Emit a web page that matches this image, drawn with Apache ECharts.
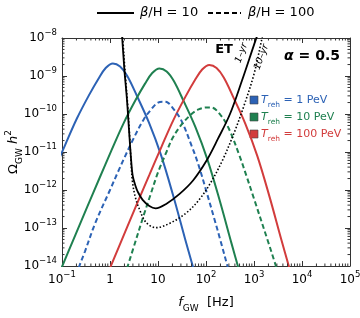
<!DOCTYPE html>
<html><head><meta charset="utf-8">
<script src="https://cdn.jsdelivr.net/npm/echarts/dist/echarts.min.js"></script>
<style>html,body{margin:0;padding:0;background:#fff}#c{width:360px;height:318px}</style>
</head><body><div id="c"></div>
<script>
const FONT = 'DejaVu Sans';
const xRange = [0.1, 1e5];
const yRange = [1e-14, 1e-8];
const legendNames = ['1 PeV', '10 PeV', '100 PeV'];
const betaNames = ['10', '100'];
const colors = ['#2c62b5', '#1f8050', '#d23c3c'];

// beta/H = 10 (solid)
const blueSolid = [[0.0912,7.6e-12],[0.1148,1.48e-11],[0.2042,7.6e-11],[0.3631,3.09e-10],[0.5754,8.5e-10],[0.8128,1.62e-9],[1.148,2.14e-9],[1.622,1.78e-9],[2.291,1.0e-9],[3.631,3.02e-10],[6.457,6.0e-11],[11.48,8.5e-12],[20.42,7.6e-13],[36.31,5.4e-14],[51.29,1.15e-14],[72.44,2.4e-15]];
const greenSolid = [[0.0851,5.9e-15],[0.1905,6.6e-14],[0.3388,3.7e-13],[0.6026,2.04e-12],[1.072,1.1e-11],[1.905,5.6e-11],[3.388,2.29e-10],[5.37,6.3e-10],[7.586,1.2e-9],[10.72,1.58e-9],[15.14,1.32e-9],[21.38,7.4e-10],[33.88,2.24e-10],[60.26,4.5e-11],[107.2,6.3e-12],[190.5,5.6e-13],[338.8,4.0e-14],[478.6,8.5e-15],[676.1,1.78e-15]];
const redSolid = [[0.933,7.2e-15],[2.089,8.1e-14],[3.715,4.6e-13],[6.607,2.5e-12],[11.75,1.35e-11],[20.89,6.9e-11],[37.15,2.82e-10],[58.88,7.8e-10],[83.18,1.48e-9],[117.5,1.95e-9],[166.0,1.62e-9],[234.4,9.1e-10],[371.5,2.75e-10],[660.7,5.5e-11],[1175,7.8e-12],[2089,6.9e-13],[3715,4.9e-14],[5248,1.05e-14],[7413,2.2e-15]];
// beta/H = 100 (dashed)
const blueDashed = [[0.2,5.6e-15],[0.23,1e-14],[0.3,2.4e-14],[0.5,1.41e-13],[1,1.0e-12],[1.5,3.2e-12],[2,7.1e-12],[3,2.1e-11],[5,7.1e-11],[7,1.26e-10],[10,2.0e-10],[13,2.1e-10],[16,2.0e-10],[20,1.48e-10],[30,7.1e-11],[50,1.48e-11],[70,4.5e-12],[100,1.0e-12],[150,1.7e-13],[200,4.7e-14],[280,1e-14],[320,5.6e-15]];
const greenDashed = [[2,5.4e-15],[2.3,9.3e-15],[3,2.7e-14],[5,2.1e-13],[7,7.6e-13],[10,2.9e-12],[15,1.0e-11],[20,2.3e-11],[30,5.0e-11],[50,1.0e-10],[70,1.32e-10],[100,1.48e-10],[130,1.48e-10],[200,9.5e-11],[300,4.1e-11],[500,7.9e-12],[700,2.3e-12],[1000,5.9e-13],[2000,4.1e-14],[2700,1.26e-14],[3000,8.3e-15]];
// ET sensitivity
const et1yr = [[1.738,1.58e-8],[1.795,1e-8],[1.995,1.45e-9],[2.259,2.34e-10],[2.489,3.8e-11],[2.754,6.2e-12],[2.985,2.3e-12],[3.388,1.3e-12],[3.802,8.9e-13],[4.786,5.5e-13],[6.607,3.8e-13],[8.913,3.3e-13],[14.79,4.3e-13],[28.18,7.9e-13],[53.7,1.78e-12],[100,5.6e-12],[177.8,2.24e-11],[316.2,1e-10],[562.3,7.6e-10],[1000,6.6e-9],[1122,1e-8],[1259,1.58e-8]];
const et10yr = [[1.778,1.58e-8],[1.841,1e-8],[2.065,1.26e-9],[2.344,1.58e-10],[2.57,2.5e-11],[2.754,5.0e-12],[2.951,1.58e-12],[3.388,6.3e-13],[4.074,3.2e-13],[5.623,1.41e-13],[9.12,1.02e-13],[17.38,1.32e-13],[38.9,2.5e-13],[72.4,5.6e-13],[125.9,1.58e-12],[223.9,6.3e-12],[398.1,3.55e-11],[631,1.78e-10],[1000,1.12e-9],[1413,7.9e-9],[1585,1.58e-8]];

const xMinor = [], yMinor = [];
for (let e = -1; e < 5; e++) for (let k = 2; k <= 9; k++) xMinor.push([k * Math.pow(10, e), 1e-14]);
for (let e = -14; e < -8; e++) for (let k = 2; k <= 9; k++) yMinor.push([0.1, k * Math.pow(10, e)]);

const AX = '#333';
function expLabel(v, isX) {
  const e = Math.round(Math.log10(v));
  if (isX && e === 0) return '{b|1}';
  if (isX && e === 1) return '{b|10}';
  return '{b|10}{sup|' + (e < 0 ? '\u2212' : '') + Math.abs(e) + '}';
}
const labelRich = {
  b: {fontFamily: FONT, fontSize: 12, color: '#000', lineHeight: 20},
  sup: {fontFamily: FONT, fontSize: 8.5, color: '#000', lineHeight: 10, verticalAlign: 'top'}
};
function mainAxis(pos, isX) {
  return {
    type: 'log', logBase: 10, position: pos,
    min: isX ? xRange[0] : yRange[0], max: isX ? xRange[1] : yRange[1],
    axisLine: {show: true, onZero: false, lineStyle: {color: AX, width: 1}},
    axisTick: {show: true, inside: true, length: 5, lineStyle: {color: AX, width: 1}},
    splitLine: {show: false}, minorTick: {show: false},
    axisLabel: {show: pos === 'bottom' || pos === 'left', margin: isX ? 4 : 5,
      formatter: v => expLabel(v, isX), rich: labelRich}
  };
}
const xMain = mainAxis('bottom', true);
xMain.name = '{f|f}{s|GW}{u|  [Hz]}';
xMain.nameLocation = 'middle'; xMain.nameGap = 27;
xMain.nameTextStyle = {rich: {
  f: {fontFamily: FONT, fontSize: 13, fontStyle: 'italic', color: '#000', lineHeight: 20},
  s: {fontFamily: FONT, fontSize: 9, color: '#000', lineHeight: 10, verticalAlign: 'bottom'},
  u: {fontFamily: FONT, fontSize: 13, color: '#000', lineHeight: 20}}};
const yMain = mainAxis('left', false);
yMain.name = '{o|\u03A9}{s|GW}{h| h}{p|2}';
yMain.nameLocation = 'middle'; yMain.nameGap = 38; yMain.nameRotate = 90;
yMain.nameMoveOverlap = false;
yMain.nameTextStyle = {rich: {
  o: {fontFamily: FONT, fontSize: 13, color: '#000', lineHeight: 20},
  s: {fontFamily: FONT, fontSize: 9, color: '#000', lineHeight: 10, verticalAlign: 'bottom'},
  h: {fontFamily: FONT, fontSize: 13, fontStyle: 'italic', color: '#000', lineHeight: 20},
  p: {fontFamily: FONT, fontSize: 9, color: '#000', lineHeight: 10, verticalAlign: 'top'}}};

function lineSeries(data, color, dashed) {
  return {type: 'line', data: data, showSymbol: false, symbol: 'none', smooth: 0.35,
    xAxisIndex: 0, yAxisIndex: 0, clip: true, z: 3,
    lineStyle: {color: color, width: 2, type: dashed ? [5, 3] : 'solid'}};
}
function tickSeries(data, isX) {
  return {type: 'custom', coordinateSystem: 'cartesian2d', xAxisIndex: 0, yAxisIndex: 0,
    data: data, silent: true, clip: false, z: 5,
    renderItem: (params, api) => {
      const v = api.value(isX ? 0 : 1);
      const L = 2.5, st = {stroke: AX, lineWidth: 1};
      if (isX) {
        const pb = api.coord([v, yRange[0]]), pt = api.coord([v, yRange[1]]);
        return {type: 'group', children: [
          {type: 'line', shape: {x1: pb[0], y1: pb[1], x2: pb[0], y2: pb[1] - L}, style: st},
          {type: 'line', shape: {x1: pt[0], y1: pt[1], x2: pt[0], y2: pt[1] + L}, style: st}]};
      }
      const pl = api.coord([xRange[0], v]), pr = api.coord([xRange[1], v]);
      return {type: 'group', children: [
        {type: 'line', shape: {x1: pl[0], y1: pl[1], x2: pl[0] + L, y2: pl[1]}, style: st},
        {type: 'line', shape: {x1: pr[0], y1: pr[1], x2: pr[0] - L, y2: pr[1]}, style: st}]};
    }};
}

const series = [
  lineSeries(blueSolid, colors[0], false),
  lineSeries(greenSolid, colors[1], false),
  lineSeries(redSolid, colors[2], false),
  lineSeries(blueDashed, colors[0], true),
  lineSeries(greenDashed, colors[1], true),
  {type: 'line', data: et1yr, showSymbol: false, symbol: 'none', smooth: 0.35, clip: true, z: 4,
    lineStyle: {color: '#000', width: 1.8}},
  {type: 'line', data: et10yr, showSymbol: false, symbol: 'none', smooth: 0.35, clip: true, z: 4,
    lineStyle: {color: '#000', width: 1.6, type: [1.5, 2]}},
  tickSeries(xMinor, true),
  tickSeries(yMinor, false)
];

const T = (o) => Object.assign({fontFamily: FONT}, o);
const graphic = [
  {type: 'line', shape: {x1: 97, y1: 13, x2: 134, y2: 13}, style: {stroke: '#000', lineWidth: 2}},
  {type: 'text', x: 140, y: 13, style: {text: '{i|\u03B2}{n|/H = ' + betaNames[0] + '}', verticalAlign: 'middle',
    rich: {i: T({fontSize: 13, fontStyle: 'italic', fill: '#000'}), n: T({fontSize: 13, fill: '#000'})}}},
  {type: 'line', shape: {x1: 208, y1: 13, x2: 241, y2: 13}, style: {stroke: '#000', lineWidth: 2, lineDash: [5, 3]}},
  {type: 'text', x: 248, y: 13, style: {text: '{i|\u03B2}{n|/H = ' + betaNames[1] + '}', verticalAlign: 'middle',
    rich: {i: T({fontSize: 13, fontStyle: 'italic', fill: '#000'}), n: T({fontSize: 13, fill: '#000'})}}},
  {type: 'text', x: 224, y: 50, style: {text: 'ET', align: 'center', verticalAlign: 'middle',
    font: 'bold 13px "DejaVu Sans"', fill: '#000'}},
  {type: 'text', x: 312, y: 56, style: {text: '{a|\u03B1}{n| = 0.5}', align: 'center', verticalAlign: 'middle',
    rich: {a: T({fontSize: 14, fontStyle: 'italic', fontWeight: 'bold', fill: '#000'}), n: T({fontSize: 14, fontWeight: 'bold', fill: '#000'})}}},
  {type: 'text', x: 241.5, y: 53, rotation: 1.22, style: {text: '1\u2013yr', align: 'center', verticalAlign: 'middle',
    font: 'italic 9.5px "DejaVu Sans"', fill: '#000'}},
  {type: 'text', x: 261.5, y: 57, rotation: 1.22, style: {text: '10\u2013yr', align: 'center', verticalAlign: 'middle',
    font: 'italic 9.5px "DejaVu Sans"', fill: '#000'}}
];
const legY = [100, 117, 134];
legendNames.forEach((nm, i) => {
  graphic.push({type: 'rect', shape: {x: 250, y: legY[i] - 4, width: 8, height: 8},
    style: {fill: colors[i], stroke: '#444', lineWidth: 0.6}});
  graphic.push({type: 'text', x: 261, y: legY[i], style: {
    text: '{t|T}{s|reh}{n| = ' + nm + '}', verticalAlign: 'middle',
    rich: {t: T({fontSize: 11, fontStyle: 'italic', fill: colors[i], lineHeight: 18}),
      s: T({fontSize: 7.5, fill: colors[i], lineHeight: 10, verticalAlign: 'bottom'}),
      n: T({fontSize: 11, fill: colors[i], lineHeight: 18})}}});
});

const chart = echarts.init(document.getElementById('c'), null, {renderer: 'canvas'});
chart.setOption({
  animation: false, backgroundColor: '#fff',
  grid: {left: 62, right: 10, top: 38, bottom: 52, containLabel: false, outerBoundsMode: 'none'},
  xAxis: [xMain, mainAxis('top', true)],
  yAxis: [yMain, mainAxis('right', false)],
  series: series,
  graphic: graphic
});
</script></body></html>
